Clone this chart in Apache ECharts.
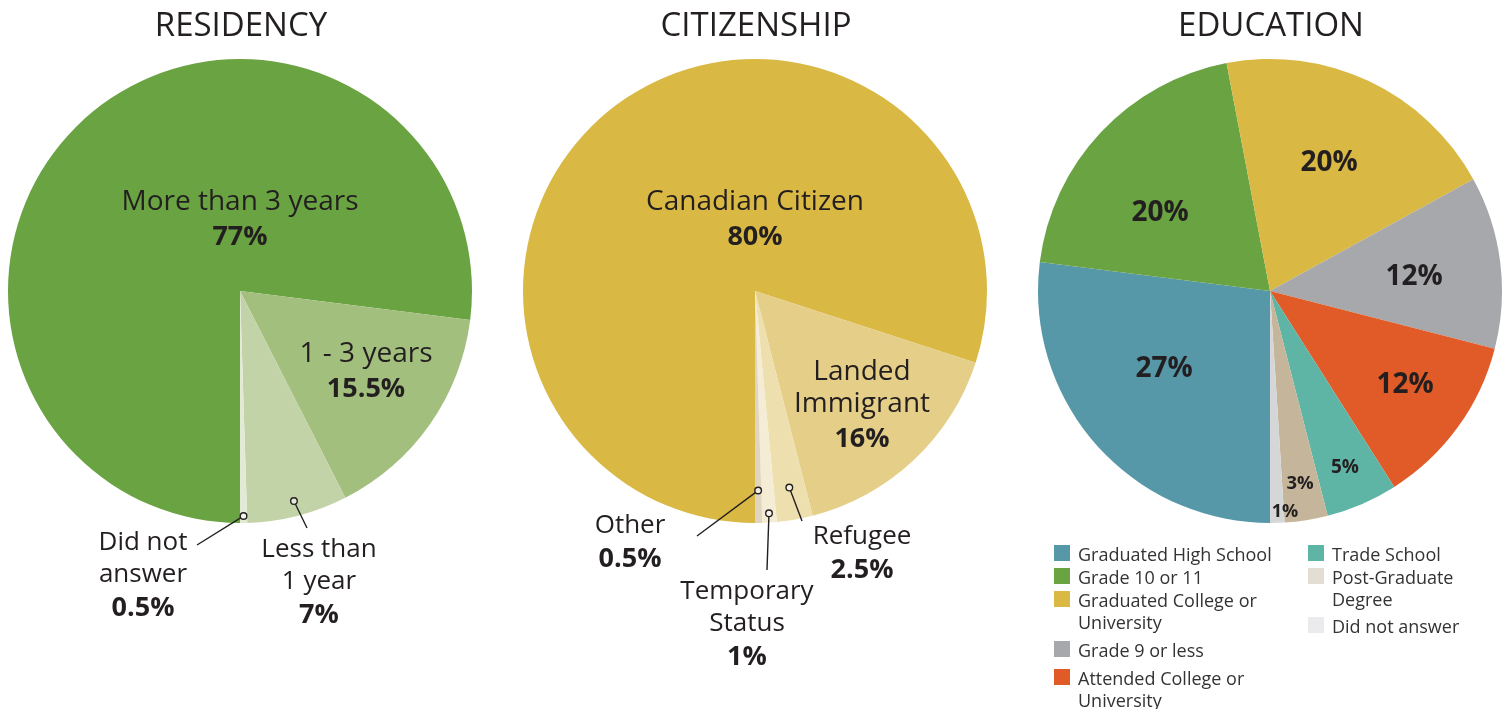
<!DOCTYPE html>
<html>
<head>
<meta charset="utf-8">
<script src="https://cdn.jsdelivr.net/npm/echarts@6/dist/echarts.min.js"></script>
<style>
  html, body { margin: 0; padding: 0; background: #fff; }
  #chart { width: 1507px; height: 709px; }
</style>
</head>
<body>
<div id="chart"></div>
<script>
// ---- data ----
const titles = ['RESIDENCY', 'CITIZENSHIP', 'EDUCATION'];

const residencyNames = ['More than 3 years', '1 - 3 years', 'Less than 1 year', 'Did not answer'];
const residencyValues = [77, 15.5, 7, 0.5];

const citizenshipNames = ['Canadian Citizen', 'Landed Immigrant', 'Refugee', 'Temporary Status', 'Other'];
const citizenshipValues = [80, 16, 2.5, 1, 0.5];

const educationNames = ['Graduated High School', 'Grade 10 or 11', 'Graduated College or University',
  'Grade 9 or less', 'Attended College or University', 'Trade School', 'Post-Graduate Degree', 'Did not answer'];
const educationValues = [27, 20, 20, 12, 12, 5, 3, 1];

// ---- styles ----
const residencyColors = ['#6aa342', '#a2bf7e', '#c2d3a8', '#e2ead6'];
const citizenshipColors = ['#d9b844', '#e5cf88', '#eedfae', '#f5ecd5', '#e0d6c0'];
const educationColors = ['#5798a8', '#6aa342', '#d9b844', '#a7a8ab', '#e05b27', '#5fb5a5', '#c5b59b', '#d5d6d8'];
const educationSwatches = ['#5798a8', '#6aa342', '#d9b844', '#a7a8ab', '#e05b27', '#5fb5a5', '#e3ddd3', '#ebebed'];

const INK = '#231f20';
const FONT = '"Open Sans", "Noto Sans", sans-serif';
const RADIUS = 232;
const TEXT_SHIFT = 2; // nudges glyph boxes so text sits on the intended line
const centers = [[240, 291], [755, 291], [1270, 291]];

// label placement: name lines, first-line position, optional leader (anchor radius fraction + line end)
const residencyLabels = [
  { lines: ['More than 3 years'], x: 240, y: 200 },
  { lines: ['1 - 3 years'], x: 366, y: 352 },
  { lines: ['Less than', '1 year'], x: 319, y: 548, anchor: 0.935, to: [307, 528] },
  { lines: ['Did not', 'answer'], x: 143, y: 541, anchor: 0.97, to: [197, 545] }
];
const citizenshipLabels = [
  { lines: ['Canadian Citizen'], x: 755, y: 200 },
  { lines: ['Landed', 'Immigrant'], x: 862, y: 370 },
  { lines: ['Refugee'], x: 862, y: 535, anchor: 0.86, to: [802, 521] },
  { lines: ['Temporary', 'Status'], x: 747, y: 590, anchor: 0.96, to: [767, 570] },
  { lines: ['Other'], x: 630, y: 524, anchor: 0.86, to: [697, 536] }
];
const educationLabels = [
  { x: 1164, y: 367, size: 28 },
  { x: 1160, y: 211, size: 28 },
  { x: 1329, y: 161, size: 28 },
  { x: 1414, y: 275, size: 28 },
  { x: 1405, y: 383, size: 28 },
  { x: 1345, y: 466, size: 19 },
  { x: 1300, y: 482, size: 18.5 },
  { x: 1285, y: 510, size: 18 }
];
// legend: column x, first-line y, and wrapped text lines
const educationLegend = [
  { x: 1054, y: 554, lines: ['Graduated High School'] },
  { x: 1054, y: 577, lines: ['Grade 10 or 11'] },
  { x: 1054, y: 600, lines: ['Graduated College or', 'University'] },
  { x: 1054, y: 650, lines: ['Grade 9 or less'] },
  { x: 1054, y: 678, lines: ['Attended College or', 'University'] },
  { x: 1308, y: 554, lines: ['Trade School'] },
  { x: 1308, y: 577, lines: ['Post-Graduate', 'Degree'] },
  { x: 1308, y: 626, lines: ['Did not answer'] }
];

function pieSeries(names, values, colors, center) {
  return {
    type: 'pie',
    center: center,
    radius: RADIUS,
    startAngle: -90,
    clockwise: true,
    silent: true,
    label: { show: false },
    labelLine: { show: false },
    emphasis: { disabled: true },
    itemStyle: { borderWidth: 0 },
    data: names.map((n, i) => ({ name: n, value: values[i], itemStyle: { color: colors[i] } }))
  };
}

const chart = echarts.init(document.getElementById('chart'), null, { renderer: 'canvas' });
chart.setOption({
  animation: false,
  backgroundColor: '#fff',
  title: titles.map((t, i) => ({
    text: t,
    left: centers[i][0] + 1,
    top: 10,
    textAlign: 'center',
    padding: 0,
    textStyle: { fontFamily: FONT, fontSize: 33, fontWeight: 400, color: INK }
  })),
  series: [
    pieSeries(residencyNames, residencyValues, residencyColors, centers[0]),
    pieSeries(citizenshipNames, citizenshipValues, citizenshipColors, centers[1]),
    pieSeries(educationNames, educationValues, educationColors, centers[2])
  ]
});

function text(str, x, y, size, weight) {
  return {
    type: 'text', silent: true, z: 10,
    style: {
      text: str, x: x, y: y + TEXT_SHIFT, fill: INK,
      font: `${weight} ${size}px ${FONT}`,
      align: 'center', verticalAlign: 'middle'
    }
  };
}

const graphics = [];
const model = chart.getModel();

function namedLabels(seriesIndex, values, specs) {
  const data = model.getSeriesByIndex(seriesIndex).getData();
  specs.forEach((s, i) => {
    const inner = !s.anchor;
    const nameSize = inner ? 28 : 26;
    s.lines.forEach((ln, k) => graphics.push(text(ln, s.x, s.y + k * 32, nameSize, 400)));
    const valueY = s.y + (s.lines.length - 1) * 32 + (inner ? 35 : 33);
    graphics.push(text(values[i] + '%', s.x, valueY, 27, 700));
    if (s.anchor) {
      const lay = data.getItemLayout(i);
      const mid = (lay.startAngle + lay.endAngle) / 2;
      const ax = lay.cx + Math.cos(mid) * lay.r * s.anchor;
      const ay = lay.cy + Math.sin(mid) * lay.r * s.anchor;
      const dx = s.to[0] - ax, dy = s.to[1] - ay, d = Math.hypot(dx, dy);
      graphics.push({
        type: 'line', silent: true, z: 10,
        shape: { x1: ax + dx / d * 3.5, y1: ay + dy / d * 3.5, x2: s.to[0], y2: s.to[1] },
        style: { stroke: INK, lineWidth: 1.4 }
      });
      graphics.push({
        type: 'circle', silent: true, z: 11,
        shape: { cx: ax, cy: ay, r: 3.3 },
        style: { fill: 'rgba(255,255,255,0.55)', stroke: INK, lineWidth: 1.4 }
      });
    }
  });
}
namedLabels(0, residencyValues, residencyLabels);
namedLabels(1, citizenshipValues, citizenshipLabels);

educationLabels.forEach((s, i) => graphics.push(text(educationValues[i] + '%', s.x, s.y, s.size, 700)));

educationLegend.forEach((l, i) => {
  graphics.push({
    type: 'rect', silent: true, z: 10,
    shape: { x: l.x, y: l.y - 9, width: 16, height: 16 },
    style: { fill: educationSwatches[i] }
  });
  l.lines.forEach((ln, k) => graphics.push({
    type: 'text', silent: true, z: 10,
    style: {
      text: ln, x: l.x + 24, y: l.y + k * 22.5 + 1.5, fill: '#333',
      font: `400 18px ${FONT}`, align: 'left', verticalAlign: 'middle'
    }
  }));
});

chart.setOption({ graphic: { elements: graphics } });
</script>
</body>
</html>
